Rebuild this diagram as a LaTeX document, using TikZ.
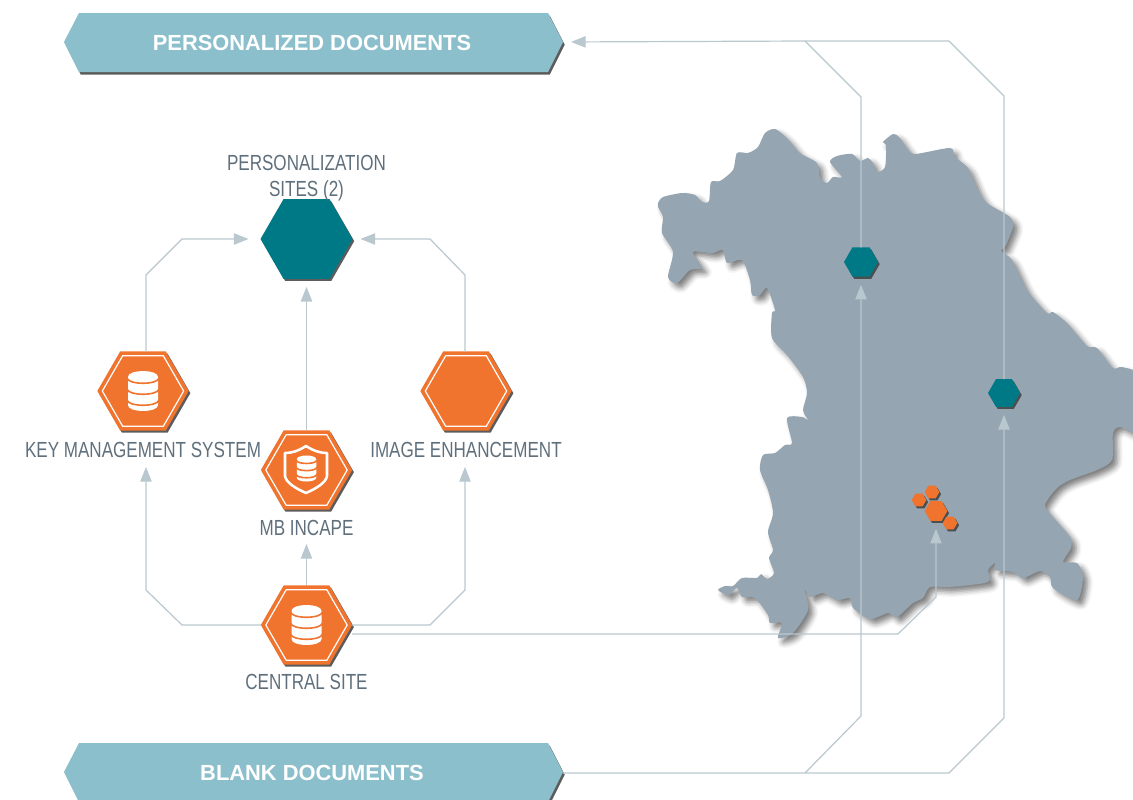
\documentclass[tikz,border=0pt]{standalone}
\usepackage{fontspec}
\setmainfont{Liberation Sans}
\newfontfamily\narrowfont[FakeStretch=0.78]{Liberation Sans}
\usetikzlibrary{arrows.meta}
\usetikzlibrary{shapes.geometric}
\usetikzlibrary{shadows.blur}
\definecolor{linkgray}{HTML}{B9C7CF}
\definecolor{mapgray}{HTML}{95A5B1}
\definecolor{bannerblue}{HTML}{8BBFCC}
\definecolor{hexorange}{HTML}{F0742E}
\definecolor{hexteal}{HTML}{007986}
\definecolor{labelgray}{HTML}{5F6F7B}
\tikzset{
    hexbase/.style={regular polygon, regular polygon sides=6, inner sep=0pt, outer sep=0pt,
        drop shadow={shadow xshift=1.3pt, shadow yshift=-1.6pt, opacity=.85, fill=black!75}},
    hexfill/.style={hexbase, fill=hexorange, minimum size=68.5pt},
    hexsite/.style={hexbase, fill=hexteal, minimum size=69pt},
    hexring/.style={regular polygon, regular polygon sides=6, inner sep=0pt, draw=white,
        line width=.9pt, minimum size=61pt},
    hexdot/.style={hexbase, fill=hexorange, minimum size=#1},
    hexspot/.style={hexbase, fill=hexteal, minimum size=#1},
    banner/.style={fill=bannerblue, drop shadow={shadow xshift=1.3pt, shadow yshift=-2pt, opacity=.85, fill=black!75}},
    bannertext/.style={text=white, font=\bfseries\fontsize{16.4}{19}\selectfont},
    sitelabel/.style={text=labelgray, font=\narrowfont\fontsize{16.4}{19.5}\selectfont, align=center, inner sep=0pt},
    link/.style={draw=linkgray, line width=.9pt},
    dbicon/.pic={
        \fill[white] (-15,-14) .. controls (-15,-22) and (15,-22) .. (15,-14) -- (15,14)
            .. controls (15,22) and (-15,22) .. (-15,14) -- cycle;
        \foreach \bandy in {-13,-2,9}
            \draw[hexorange, line width=1.2pt] (-16,\bandy) .. controls (-15,\bandy+7) and (15,\bandy+7) .. (16,\bandy);
    }
}
\begin{document}
\begin{tikzpicture}[x=.75pt, y=-.75pt, >={Triangle[length=11pt,width=8.5pt]}, node distance=2cm]
    \useasboundingbox (0,0) rectangle (1133,800);

    \fill[mapgray, blur shadow={shadow xshift=3.5pt, shadow yshift=-3.5pt, shadow blur radius=4pt, shadow opacity=50}]
        plot[smooth, tension=.45] coordinates {
        (658,203) (663,197) (682,193) (695,195) (702,202) (709,201) (711,182) (720,181) (733,170)
        (737,153) (748,153) (758,147) (765,133) (775,129) (787,138) (800,153) (817,163) (820,178)
        (827,183) (833,177) (842,177) (830,162) (837,156) (852,154) (860,161) (868,158) (873,163)
        (877,172) (885,167) (886,145) (883,142) (893,134) (899,137) (907,148) (915,154) (950,148)
        (955,157) (968,168) (978,190) (987,203) (1010,217) (1013,227) (1005,247) (1001,251) (1012,260)
        (1027,290) (1047,313) (1053,312) (1067,323) (1087,346) (1097,348) (1113,368) (1122,367) (1140,377)
        (1140,432) (1120,427) (1113,433) (1112,460) (1097,470) (1070,480) (1057,488) (1045,505) (1053,517)
        (1070,537) (1071,548) (1063,562) (1077,563) (1083,577) (1077,600) (1053,588) (1050,577) (1040,571)
        (1023,578) (1013,572) (995,570) (995,563) (988,570) (988,582) (950,587) (930,587) (923,598)
        (913,603) (897,617) (888,613) (870,619) (853,608) (850,598) (837,600) (823,593) (810,597)
        (805,590) (808,610) (793,633) (778,638) (782,623) (770,623) (768,615) (755,598) (742,597)
        (737,588) (728,595) (718,590) (725,586) (733,586) (742,578) (757,578) (761,574) (767,579)
        (774,573) (769,558) (773,550) (768,532) (773,513) (768,490) (760,470) (763,455) (775,453)
        (785,445) (792,443) (787,418) (802,417) (808,420) (803,410) (807,393) (803,377) (787,355)
        (772,338) (772,313) (775,310) (767,288) (760,295) (752,295) (750,280) (742,260) (727,263)
        (723,250) (712,253) (693,252) (702,268) (690,270) (677,283) (668,277) (673,252) (662,233)
        (663,217) (658,207) (658,203)};

    \fill[banner] (64,42) -- (79,13) -- (548,13) -- (563,42) -- (548,72) -- (79,72) -- cycle;
    \fill[banner] (64,772) -- (79,743) -- (548,743) -- (563,772) -- (548,802) -- (79,802) -- cycle;
    \node[bannertext] (personalized) at (312,43) {PERSONALIZED DOCUMENTS};
    \node[bannertext] (blank) at (312,773) {BLANK DOCUMENTS};
    \coordinate (personalizedtip) at (563,42);
    \coordinate (blanktip) at (563,773);

    \node[hexsite] (sites) at (306.5,239) {};
    \node[hexfill] (kms) at (143,391) {};
    \node[hexfill] (enhance) at (466,391) {};
    \node[hexfill] (mb) [below of=sites, node distance=173.25pt] {};
    \node[hexfill] (central) [below of=mb, node distance=116.25pt] {};
    \foreach \hexname in {kms,enhance,mb,central}
        \node[hexring] at (\hexname) {};

    \pic at (kms) {dbicon};
    \pic at (central) {dbicon};
    \pic[scale=.65] at (306.5,468.5) {dbicon};
    \draw[white, line width=1.9pt, line join=round] (306,446) .. controls (298,451) and (292,453) .. (285,453)
        -- (285,476) .. controls (286,483) and (297,489) .. (306,493)
        .. controls (315,489) and (326,483) .. (327,476) -- (327,453)
        .. controls (320,453) and (314,451) .. (306,446) -- cycle;

    \node[sitelabel] (siteslabel) [above of=sites, node distance=46pt] {PERSONALIZATION\\SITES (2)};
    \node[sitelabel] (kmslabel) [below of=kms, node distance=44.5pt] {KEY MANAGEMENT SYSTEM};
    \node[sitelabel] (enhancelabel) [below of=enhance, node distance=44.5pt] {IMAGE ENHANCEMENT};
    \node[sitelabel] (mblabel) [below of=mb, node distance=43.5pt] {MB INCAPE};
    \node[sitelabel] (centrallabel) [below of=central, node distance=43pt] {CENTRAL SITE};

    \node[hexspot=25.5pt] (northspot) at (861,262) {};
    \node[hexspot=24pt] (eastspot) at (1004,393) {};
    \node[hexdot=17pt] (munich) at (936,511) {};
    \node[hexdot=11pt] (munichwest) at (919,500) {};
    \node[hexdot=11pt] (munichnorth) at (932,492) {};
    \node[hexdot=11pt] (munichsouth) at (950,523) {};

    \draw[link, ->, shorten >=9pt] (146,352) -- (146,275) -- (182,239) -- (sites.west);
    \draw[link, ->, shorten >=6pt] (465,352) -- (465,275) -- (430,239) -- (sites.east);
    \draw[link, ->, shorten >=6pt] (mb.north) -- (sites.south);
    \draw[link, ->, shorten >=6pt] (central.north) -- (mblabel.south);
    \draw[link, ->] (central.west) -- (182,625) -- (146,590) -- (146,467);
    \draw[link, ->] (central.east) -- (430,625) -- (465,590) -- (465,467);
    \draw[link, ->, shorten >=6pt] (352,634) -- (898,634) -- (936,597) -- (munich.south);
    \draw[link, ->, shorten >=6pt] (blanktip) -- (805,773) -- (861,716) -- (northspot.south);
    \draw[link, ->, shorten >=6pt] (805,773) -- (949,773) -- (1004,718) -- (eastspot.south);
    \draw[link, ->, shorten >=6pt] (northspot.north) -- (861,97) -- (805,41) -- (personalizedtip);
    \draw[link] (eastspot.north) -- (1004,96) -- (949,41) -- (805,41);
\end{tikzpicture}
\end{document}
